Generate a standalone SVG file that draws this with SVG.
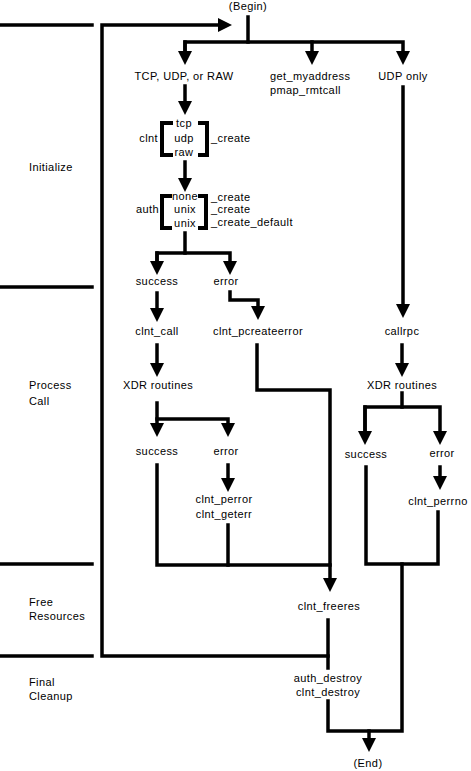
<svg xmlns="http://www.w3.org/2000/svg" width="471" height="771" viewBox="0 0 471 771">
<style>
text{font-family:"Liberation Sans",Arial,sans-serif;font-size:11px;fill:#000;letter-spacing:0.4px}
.m{text-anchor:middle}
.e{text-anchor:end}
.ln{fill:none;stroke:#000;stroke-width:3.5;stroke-linejoin:miter;stroke-linecap:square}
.ar{marker-end:url(#ah)}
.br{fill:none;stroke:#000;stroke-width:4;stroke-linecap:butt}
</style>
<defs>
<marker id="ah" markerUnits="userSpaceOnUse" markerWidth="14" markerHeight="14" refX="4" refY="7" orient="auto" viewBox="0 0 14 14"><path d="M0,0 L14,7 L0,14 z" fill="#000"/></marker>
</defs>
<g id="sections">
<path class="ln" d="M0,25 H92 M0,287 H92 M0,564 H92 M0,656 H92" stroke-linecap="butt"/>
<text x="29" y="171">Initialize</text>
<text x="29" y="389">Process</text>
<text x="29" y="405">Call</text>
<text x="29" y="606">Free</text>
<text x="29" y="620">Resources</text>
<text x="29" y="686">Final</text>
<text x="29" y="700">Cleanup</text>
</g>
<g id="connectors">
<path class="ln" d="M248,17 V42"/>
<path class="ln ar" d="M185,55 V42 H403 V55"/>
<path class="ln ar" d="M185,42 V55"/>
<path class="ln ar" d="M312,42 V55"/>
<path class="ln ar" d="M328,656 H102 V25 H222"/>
<path class="ln ar" d="M185,86 V105"/>
<path class="ln ar" d="M185,162 V182"/>
<path class="ln" d="M185,233 V253"/>
<path class="ln ar" d="M157,265 V253 H230 V265"/>
<path class="ln ar" d="M157,253 V265"/>
<path class="ln ar" d="M157,293 V312"/>
<path class="ln ar" d="M230,292 V300 H258 V310"/>
<path class="ln ar" d="M157,345 V367"/>
<path class="ln ar" d="M257,345 V390 H330 V582"/>
<path class="ln ar" d="M157,403 V427"/>
<path class="ln ar" d="M157,419 H228 V427"/>
<path class="ln" d="M157,465 V565 H330"/>
<path class="ln" d="M228,525 V565"/>
<path class="ln ar" d="M228,465 V482"/>
<path class="ln ar" d="M403,87 V308"/>
<path class="ln ar" d="M402,345 V367"/>
<path class="ln" d="M402,393 V407"/>
<path class="ln ar" d="M365,435 V407 H440 V435"/>
<path class="ln ar" d="M365,407 V435"/>
<path class="ln ar" d="M440,467 V480"/>
<path class="ln" d="M366,467 V564 H438 V512"/>
<path class="ln" d="M402,564 V731 H328 V701"/>
<path class="ln ar" d="M369,731 V742"/>
<path class="ln" d="M328,620 V668"/>
</g>
<g id="begin"><text class="m" x="248" y="10">(Begin)</text></g>
<g id="tcp-udp-raw"><text class="m" x="184" y="80">TCP, UDP, or RAW</text></g>
<g id="get-myaddress"><text x="270" y="80">get_myaddress</text><text x="270" y="94">pmap_rmtcall</text></g>
<g id="udp-only"><text class="m" x="403" y="80">UDP only</text></g>
<g id="clnt-create">
<path class="br" d="M173,123 H162 V155 H173 M198,123 H207 V155 H198"/>
<text class="m" x="184" y="127">tcp</text>
<text class="m" x="184" y="142">udp</text>
<text class="m" x="184" y="156">raw</text>
<text class="e" x="158" y="142">clnt</text>
<text x="211" y="142">_create</text>
</g>
<g id="auth-create">
<path class="br" d="M172,196 H162 V228 H172 M198,196 H206 V228 H198"/>
<text class="m" x="185" y="200">none</text>
<text class="m" x="185" y="213">unix</text>
<text class="m" x="185" y="227">unix</text>
<text class="e" x="159" y="213">auth</text>
<text x="211" y="201">_create</text>
<text x="211" y="213">_create</text>
<text x="211" y="226">_create_default</text>
</g>
<g id="success1"><text class="m" x="157" y="285">success</text></g>
<g id="error1"><text class="m" x="226" y="285">error</text></g>
<g id="clnt-call"><text class="m" x="157" y="335">clnt_call</text></g>
<g id="clnt-pcreateerror"><text class="m" x="258" y="335">clnt_pcreateerror</text></g>
<g id="xdr1"><text class="m" x="158" y="389">XDR routines</text></g>
<g id="success2"><text class="m" x="157" y="455">success</text></g>
<g id="error2"><text class="m" x="226" y="455">error</text></g>
<g id="clnt-perror"><text class="m" x="224" y="503">clnt_perror</text><text class="m" x="224" y="518">clnt_geterr</text></g>
<g id="callrpc"><text class="m" x="402" y="335">callrpc</text></g>
<g id="xdr2"><text class="m" x="402" y="389">XDR routines</text></g>
<g id="success3"><text class="m" x="366" y="458">success</text></g>
<g id="error3"><text class="m" x="442" y="457">error</text></g>
<g id="clnt-perrno"><text class="m" x="438" y="505">clnt_perrno</text></g>
<g id="clnt-freeres"><text class="m" x="329" y="610">clnt_freeres</text></g>
<g id="destroy"><text class="m" x="328" y="682">auth_destroy</text><text class="m" x="328" y="696">clnt_destroy</text></g>
<g id="end"><text class="m" x="368" y="767">(End)</text></g>
</svg>
